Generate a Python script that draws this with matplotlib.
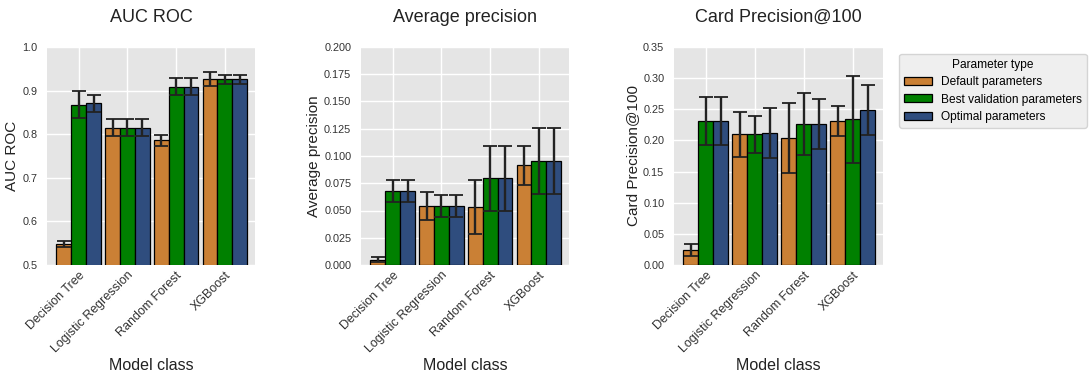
import numpy as np
import matplotlib
matplotlib.use("Agg")
import matplotlib.pyplot as plt

plt.rcParams["font.family"] = ["Liberation Sans", "DejaVu Sans"]

models = ["Decision Tree", "Logistic Regression", "Random Forest", "XGBoost"]
param_types = ["Default parameters", "Best validation parameters", "Optimal parameters"]
colors = ["#CA8035", "#008000", "#2F4D7E"]

# AUC ROC: mean and std per parameter type
auc_mean = [[0.548, 0.815, 0.786, 0.926],
            [0.868, 0.815, 0.909, 0.926],
            [0.871, 0.815, 0.909, 0.926]]
auc_std = [[0.006, 0.019, 0.012, 0.016],
           [0.030, 0.019, 0.019, 0.010],
           [0.020, 0.019, 0.019, 0.010]]

# Average precision
ap_mean = [[0.0049, 0.0539, 0.0530, 0.0916],
           [0.0677, 0.0540, 0.0796, 0.0953],
           [0.0677, 0.0540, 0.0796, 0.0953]]
ap_std = [[0.002, 0.013, 0.0246, 0.0178],
          [0.010, 0.010, 0.030, 0.030],
          [0.010, 0.010, 0.030, 0.030]]

# Card Precision@100
cp_mean = [[0.0241, 0.210, 0.204, 0.231],
           [0.2315, 0.210, 0.226, 0.234],
           [0.2315, 0.2117, 0.226, 0.249]]
cp_std = [[0.010, 0.036, 0.0565, 0.0245],
          [0.039, 0.0295, 0.050, 0.070],
          [0.039, 0.040, 0.040, 0.040]]

panels = [
    ("AUC ROC", auc_mean, auc_std, (0.5, 1.0), np.arange(0.5, 1.01, 0.1), "%.1f"),
    ("Average precision", ap_mean, ap_std, (0.0, 0.2), np.arange(0, 0.201, 0.025), "%.3f"),
    ("Card Precision@100", cp_mean, cp_std, (0.0, 0.35), np.arange(0, 0.351, 0.05), "%.2f"),
]

fig = plt.figure(figsize=(10.92, 3.79), dpi=100)
lefts = [47, 361, 674]
widths = [208, 208, 209]
W, H = 1092, 379
bottom = 1 - 265 / H
height = (265 - 47) / H

x = np.arange(len(models))
bw = 0.305
for k, (title, means, stds, ylim, yticks, fmt) in enumerate(panels):
    ax = fig.add_axes([lefts[k] / W, bottom, widths[k] / W, height])
    ax.set_facecolor("#E5E5E5")
    ax.grid(True, color="white", linewidth=1)
    ax.set_axisbelow(True)
    for s in ax.spines.values():
        s.set_visible(False)
    for j in range(3):
        ax.bar(x + (j - 1) * bw, means[j], bw, yerr=stds[j], color=colors[j],
               edgecolor="black", linewidth=0.9, ecolor="#222222",
               error_kw=dict(capsize=5, elinewidth=1.7, capthick=1.3),
               label=param_types[j])
    ax.set_xlim(-0.65, 3.62)
    ax.set_ylim(*ylim)
    ax.set_yticks(yticks)
    ax.set_yticklabels([fmt % v for v in yticks])
    ax.set_xticks(x)
    ax.set_xticklabels(models, rotation=45, ha="right", rotation_mode="anchor",
                       fontsize=9, color="#333333")
    ax.tick_params(axis="y", labelsize=7.8, colors="#333333", length=0, pad=7)
    ax.tick_params(axis="x", length=0, pad=3)
    ax.set_title(title, fontsize=13, pad=18, color="#222222")
    ax.set_ylabel(title, fontsize=11, color="#222222", labelpad=2)
    ax.set_xlabel("Model class", fontsize=11.5, color="#222222", va="center")
    ax.xaxis.set_label_coords(0.5, -0.46)
    if k == 2:
        leg = ax.legend(title="Parameter type", loc="upper left",
                        bbox_to_anchor=(1.05, 0.995), fontsize=8.6,
                        title_fontsize=8.6, facecolor="#EBEBEB",
                        edgecolor="#CCCCCC", handlelength=2.3, handleheight=0.65,
                        borderpad=0.4, labelspacing=0.45, handletextpad=0.8)

fig.savefig("out.png", dpi=100)
